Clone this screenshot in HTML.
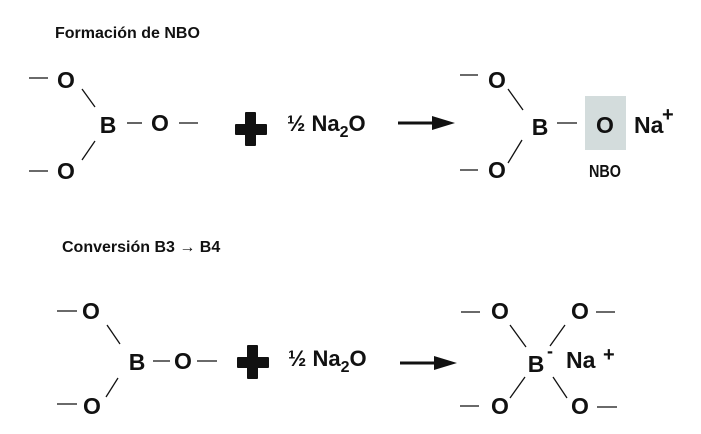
<!DOCTYPE html>
<html><head><meta charset="utf-8"><style>
html,body{margin:0;padding:0;background:#fff;}
svg{display:block}
text{font-family:"Liberation Sans",sans-serif;font-weight:bold;fill:#111;}
</style></head><body>
<svg width="701" height="434" viewBox="0 0 701 434" xmlns="http://www.w3.org/2000/svg">
<g stroke="#111" stroke-width="1.3" fill="none">
<line x1="29" y1="78" x2="48" y2="78"/>
<line x1="82" y1="89" x2="95" y2="107"/>
<line x1="95" y1="141" x2="82" y2="160"/>
<line x1="29" y1="171" x2="48" y2="171"/>
<line x1="127" y1="123" x2="142" y2="123"/>
<line x1="179" y1="123" x2="198" y2="123"/>
<line x1="460" y1="75" x2="478" y2="75"/>
<line x1="508" y1="89" x2="523" y2="110"/>
<line x1="522" y1="140" x2="508" y2="163"/>
<line x1="460" y1="170" x2="478" y2="170"/>
<line x1="557" y1="123" x2="577" y2="123"/>
<line x1="57" y1="311" x2="77" y2="311"/>
<line x1="107" y1="325" x2="120" y2="344"/>
<line x1="118" y1="378" x2="106" y2="397"/>
<line x1="57" y1="404" x2="77" y2="404"/>
<line x1="153" y1="361" x2="170" y2="361"/>
<line x1="197" y1="361" x2="217" y2="361"/>
<line x1="461" y1="312" x2="480" y2="312"/>
<line x1="596" y1="312" x2="615" y2="312"/>
<line x1="510" y1="325" x2="526" y2="347"/>
<line x1="565" y1="325" x2="550" y2="346"/>
<line x1="525" y1="377" x2="510" y2="398"/>
<line x1="553" y1="377" x2="567" y2="398"/>
<line x1="460" y1="406" x2="479" y2="406"/>
<line x1="597" y1="407" x2="617" y2="407"/>
</g>
<line x1="398" y1="123" x2="435" y2="123" stroke="#111" stroke-width="3"/>
<polygon points="432,116 455,123 432,130" fill="#111"/>
<line x1="400" y1="363" x2="437" y2="363" stroke="#111" stroke-width="3"/>
<polygon points="434,356 457,363 434,370" fill="#111"/>
<rect x="235" y="124" width="32" height="11" fill="#111" rx="1"/>
<rect x="245" y="112" width="11" height="34" fill="#111" rx="1"/>
<rect x="237" y="357" width="32" height="11" fill="#111" rx="1"/>
<rect x="247" y="345" width="11" height="34" fill="#111" rx="1"/>
<rect x="585" y="96" width="41" height="54" fill="#d3dcdc"/>

<text x="55" y="38" font-size="16">Formación de NBO</text>
<text x="62" y="252" font-size="16">Conversión B3 → B4</text>

<g font-size="23">
<text x="66" y="88" text-anchor="middle">O</text>
<text x="108" y="133" text-anchor="middle">B</text>
<text x="160" y="131" text-anchor="middle">O</text>
<text x="66" y="179" text-anchor="middle">O</text>
<text x="497" y="88" text-anchor="middle">O</text>
<text x="540" y="135" text-anchor="middle">B</text>
<text x="605" y="133" text-anchor="middle">O</text>
<text x="497" y="178" text-anchor="middle">O</text>
<text x="634" y="133">Na</text>
<text x="662" y="121" font-size="20">+</text>
<text x="91" y="319" text-anchor="middle">O</text>
<text x="137" y="370" text-anchor="middle">B</text>
<text x="183" y="369" text-anchor="middle">O</text>
<text x="92" y="414" text-anchor="middle">O</text>
<text x="500" y="319" text-anchor="middle">O</text>
<text x="580" y="319" text-anchor="middle">O</text>
<text x="536" y="372" text-anchor="middle">B</text>
<text x="547" y="357" font-size="18">-</text>
<text x="566" y="368">Na</text>
<text x="603" y="361" font-size="20">+</text>
<text x="500" y="414" text-anchor="middle">O</text>
<text x="580" y="414" text-anchor="middle">O</text>
</g>
<g font-size="22">
<text x="287" y="131">½ Na<tspan font-size="16" dy="6">2</tspan><tspan dy="-6">O</tspan></text>
<text x="288" y="366">½ Na<tspan font-size="16" dy="6">2</tspan><tspan dy="-6">O</tspan></text>
</g>
<text x="605" y="177" font-size="18" text-anchor="middle" transform="translate(605 0) scale(0.8 1) translate(-605 0)">NBO</text>
</svg>
</body></html>
